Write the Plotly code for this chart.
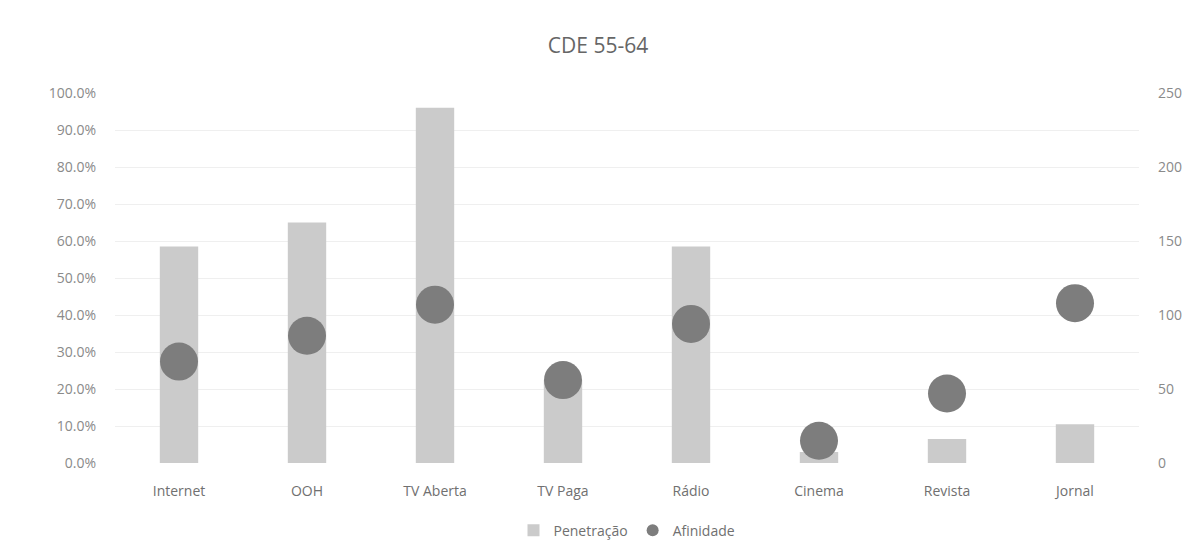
import plotly.graph_objects as go

categories = ["Internet", "OOH", "TV Aberta", "TV Paga", "Rádio", "Cinema", "Revista", "Jornal"]
penetracao = [0.585, 0.65, 0.96, 0.225, 0.585, 0.03, 0.065, 0.105]
afinidade = [68.5, 86, 107, 56, 94, 15, 47, 108]
left_ticks = [i / 10 for i in range(11)]
right_ticks = [0, 50, 100, 150, 200, 250]

fig = go.Figure()
fig.add_trace(go.Bar(
    x=categories, y=penetracao, name="Penetração",
    marker=dict(color="#cbcbcb", line=dict(width=0)), width=0.3, yaxis="y",
))
fig.add_trace(go.Scatter(
    x=categories, y=afinidade, name="Afinidade", mode="markers",
    marker=dict(color="#7d7d7d", size=38, line=dict(width=0)), yaxis="y2",
))

font_fam = "Open Sans, DejaVu Sans, sans-serif"
fig.update_layout(
    width=1196, height=559,
    margin=dict(l=115, r=57, t=93, b=94),
    paper_bgcolor="white", plot_bgcolor="white",
    title=dict(text="CDE 55-64", x=0.5, xanchor="center", y=0.918, yanchor="middle",
               font=dict(family=font_fam, size=21, color="#666666")),
    bargap=0.7,
    xaxis=dict(range=[-0.5, len(categories) - 0.5], showgrid=False, showline=False, zeroline=False, ticks="",
               tickfont=dict(family=font_fam, size=14, color="#707070"), ticklabelstandoff=18),
    yaxis=dict(range=[0, 1.0], tickvals=left_ticks, tickformat=".1%",
               showgrid=True, gridcolor="#efefef", gridwidth=1, zeroline=False, showline=False,
               tickfont=dict(family=font_fam, size=14, color="#8a8a8a"), ticklabelstandoff=18),
    yaxis2=dict(range=[0, 250], tickvals=right_ticks, overlaying="y", side="right",
                showgrid=False, zeroline=False, showline=False,
                tickfont=dict(family=font_fam, size=14, color="#8a8a8a"), ticklabelstandoff=18),
    legend=dict(orientation="h", x=0.5, xanchor="center", y=-0.183, yanchor="middle",
                font=dict(family=font_fam, size=14, color="#707070"), itemsizing="constant",
                bgcolor="rgba(0,0,0,0)"),
    showlegend=True,
)
fig.write_html("out.html")
